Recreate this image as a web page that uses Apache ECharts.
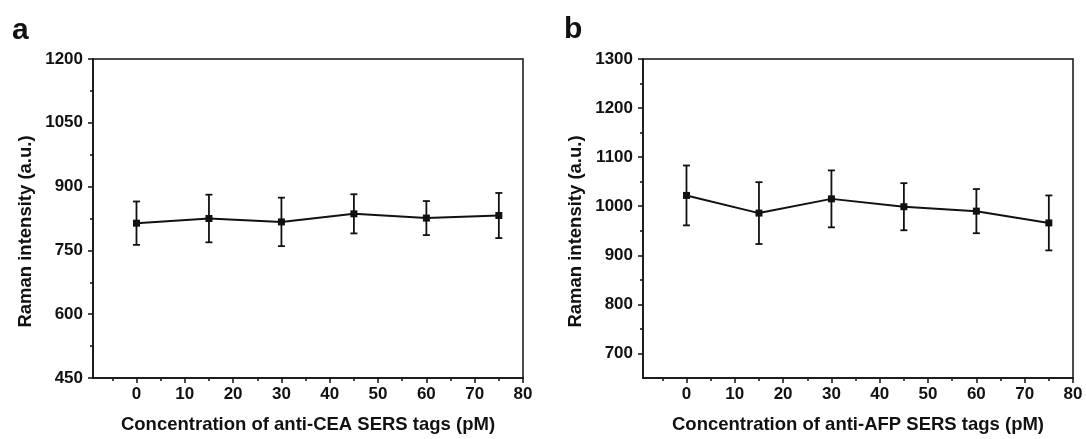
<!DOCTYPE html>
<html>
<head>
<meta charset="utf-8">
<script src="https://cdn.jsdelivr.net/npm/echarts@6/dist/echarts.min.js"></script>
<style>
html,body{margin:0;padding:0;background:#fff;}
#chart{width:1086px;height:439px;}
</style>
</head>
<body>
<div id="chart"></div>
<script>
// ---- data ----
var concentrations = [0, 15, 30, 45, 60, 75];
var ceaMean = [814, 825, 817, 836, 826, 832];
var ceaErr  = [51, 56, 57, 46, 40, 53];
var afpMean = [1022, 986, 1015, 999, 990, 966];
var afpErr  = [61, 63, 58, 48, 45, 56];

var xTickLabels = [0, 10, 20, 30, 40, 50, 60, 70, 80];
var xMinorTicks = [-5, 5, 15, 25, 35, 45, 55, 65, 75];
var ceaYTicks = [450, 600, 750, 900, 1050, 1200];
var ceaYMinor = [525, 675, 825, 975, 1125];
var afpYTicks = [700, 800, 900, 1000, 1100, 1200, 1300];
var afpYMinor = [750, 850, 950, 1050, 1150, 1250];

var xTitleA = 'Concentration of anti-CEA SERS tags (pM)';
var xTitleB = 'Concentration of anti-AFP SERS tags (pM)';
var yTitle = 'Raman intensity (a.u.)';

// ---- chart ----
var FONT = '"Liberation Sans", Arial, sans-serif';
var INK = '#111';
function plain(v) { return String(v); }

function pairs(xs, ys) { return xs.map(function (x, i) { return [x, ys[i]]; }); }
function bars(xs, m, e) { return xs.map(function (x, i) { return [x, m[i] - e[i], m[i] + e[i]]; }); }

function mainX(grid, title) {
  return {
    type: 'value', gridIndex: grid, min: -9, max: 80, position: 'bottom',
    axisLine: { show: true, onZero: false, lineStyle: { color: INK, width: 1.5 } },
    axisTick: { show: true, customValues: xTickLabels, length: 5, inside: false, lineStyle: { color: INK, width: 1.5 } },
    axisLabel: { customValues: xTickLabels, formatter: plain, color: INK, fontFamily: FONT, fontWeight: 'bold', fontSize: 17, margin: 8 },
    splitLine: { show: false },
    name: title, nameLocation: 'middle', nameGap: 37,
    nameTextStyle: { color: INK, fontFamily: FONT, fontWeight: 'bold', fontSize: 18.5 }
  };
}
function minorX(grid) {
  return {
    type: 'value', gridIndex: grid, min: -9, max: 80, position: 'bottom',
    axisLine: { show: false, onZero: false },
    axisTick: { show: true, customValues: xMinorTicks, length: 3, lineStyle: { color: INK, width: 1.5 } },
    axisLabel: { show: false, customValues: xMinorTicks },
    splitLine: { show: false }
  };
}
function mainY(grid, mn, mx, ticks) {
  return {
    type: 'value', gridIndex: grid, min: mn, max: mx, position: 'left',
    axisLine: { show: true, onZero: false, lineStyle: { color: INK, width: 1.5 } },
    axisTick: { show: true, customValues: ticks, length: 5, lineStyle: { color: INK, width: 1.5 } },
    axisLabel: { customValues: ticks, formatter: plain, color: INK, fontFamily: FONT, fontWeight: 'bold', fontSize: 17, margin: 10 },
    splitLine: { show: false },
    name: yTitle, nameLocation: 'middle', nameGap: 58, nameRotate: 90,
    nameTextStyle: { color: INK, fontFamily: FONT, fontWeight: 'bold', fontSize: 18.5, padding: [0, 26, 0, 0] }
  };
}
function minorY(grid, mn, mx, ticks) {
  return {
    type: 'value', gridIndex: grid, min: mn, max: mx, position: 'left',
    axisLine: { show: false, onZero: false },
    axisTick: { show: true, customValues: ticks, length: 3, lineStyle: { color: INK, width: 1.5 } },
    axisLabel: { show: false, customValues: ticks },
    splitLine: { show: false }
  };
}
function errorSeries(xi, yi, data) {
  return {
    type: 'custom', xAxisIndex: xi, yAxisIndex: yi, data: data, z: 3,
    renderItem: function (params, api) {
      var x = api.value(0);
      var lo = api.coord([x, api.value(1)]);
      var hi = api.coord([x, api.value(2)]);
      var w = 3.5;
      var st = { stroke: INK, lineWidth: 1.8 };
      return { type: 'group', children: [
        { type: 'line', shape: { x1: lo[0], y1: lo[1], x2: hi[0], y2: hi[1] }, style: st },
        { type: 'line', shape: { x1: lo[0] - w, y1: lo[1], x2: lo[0] + w, y2: lo[1] }, style: st },
        { type: 'line', shape: { x1: hi[0] - w, y1: hi[1], x2: hi[0] + w, y2: hi[1] }, style: st }
      ]};
    }
  };
}
function lineSeries(xi, yi, data) {
  return {
    type: 'line', xAxisIndex: xi, yAxisIndex: yi, data: data, z: 4,
    symbol: 'rect', symbolSize: 7, showSymbol: true,
    itemStyle: { color: INK },
    lineStyle: { color: INK, width: 2 }
  };
}

var option = {
  animation: false,
  backgroundColor: '#fff',
  title: [
    { text: 'a', left: 7, top: 11, textStyle: { fontFamily: FONT, fontWeight: 'bold', fontSize: 30, color: INK } },
    { text: 'b', left: 559, top: 10, textStyle: { fontFamily: FONT, fontWeight: 'bold', fontSize: 30, color: INK } }
  ],
  grid: [
    { left: 93, top: 59, width: 430, height: 320, show: true, borderColor: INK, borderWidth: 1.5, backgroundColor: 'transparent' },
    { left: 643, top: 59, width: 430, height: 320, show: true, borderColor: INK, borderWidth: 1.5, backgroundColor: 'transparent' }
  ],
  xAxis: [mainX(0, xTitleA), minorX(0), mainX(1, xTitleB), minorX(1)],
  yAxis: [mainY(0, 450, 1200, ceaYTicks), minorY(0, 450, 1200, ceaYMinor),
          mainY(1, 650, 1300, afpYTicks), minorY(1, 650, 1300, afpYMinor)],
  series: [
    errorSeries(0, 0, bars(concentrations, ceaMean, ceaErr)),
    lineSeries(0, 0, pairs(concentrations, ceaMean)),
    errorSeries(2, 2, bars(concentrations, afpMean, afpErr)),
    lineSeries(2, 2, pairs(concentrations, afpMean))
  ]
};
var chart = echarts.init(document.getElementById('chart'), null, { renderer: 'canvas' });
chart.setOption(option);
</script>
</body>
</html>
